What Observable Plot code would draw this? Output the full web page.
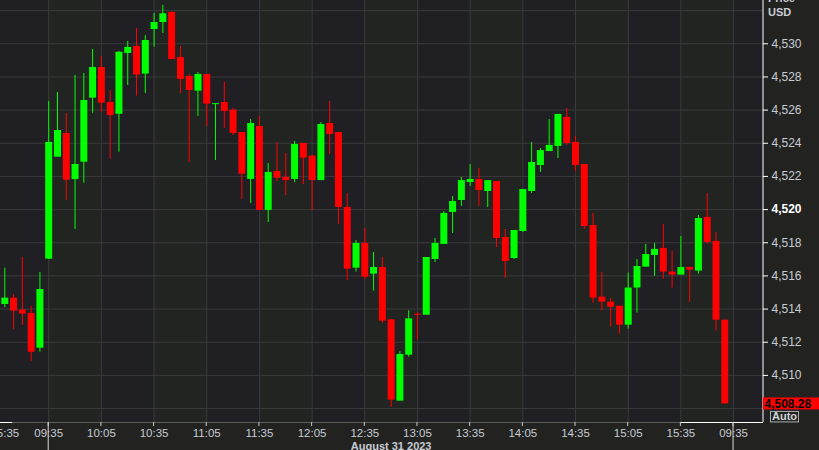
<!DOCTYPE html>
<html><head><meta charset="utf-8">
<script src="https://cdn.jsdelivr.net/npm/d3@7"></script>
<script src="https://cdn.jsdelivr.net/npm/@observablehq/plot@0.6"></script>
<style>
html,body{margin:0;padding:0;background:#222321;overflow:hidden;}
#chart{width:819px;height:450px;}
</style></head><body><div id="chart"></div>
<script>
// 5-minute candles, end of Aug 30 session .. 16:00 Aug 31 2023
const opens  = [4514.28,4514.66,4513.94,4513.74,4511.64,4517.01,4523.16,4524.59,4521.81,4522.86,
                4526.72,4528.57,4526.46,4525.75,4529.42,4529.84,4528.17,4530.86,4531.28,4531.89,
                4529.17,4528.03,4527.14,4528.15,4526.33,4526.46,4526.00,4524.65,4521.82,4525.01,
                4519.95,4522.30,4521.94,4521.82,4523.99,4523.22,4521.75,4525.19,4524.65,4520.13,
                4516.47,4517.96,4516.11,4516.51,4513.35,4508.45,4511.22,4513.69,4513.63,4516.99,
                4517.90,4519.83,4520.55,4521.63,4521.82,4521.09,4521.69,4518.32,4517.05,4518.68,
                4521.09,4522.66,4523.50,4523.81,4525.56,4524.05,4522.72,4519.04,4514.72,4514.42,
                4514.17,4513.03,4515.27,4516.53,4517.23,4517.66,4516.23,4516.05,4516.51,4516.29,
                4519.53,4518.08,4513.33];
const highs  = [4516.47,4514.88,4517.11,4514.16,4516.21,4526.52,4527.06,4525.80,4528.09,4528.21,
                4529.66,4529.23,4527.17,4529.54,4530.14,4530.92,4530.50,4531.83,4532.31,4531.95,
                4529.84,4528.15,4528.27,4528.15,4526.39,4527.68,4526.10,4524.65,4525.43,4525.62,
                4522.78,4524.05,4523.38,4524.11,4523.99,4523.30,4525.25,4526.52,4524.65,4520.97,
                4518.14,4518.86,4517.41,4517.11,4513.39,4511.44,4513.90,4513.78,4517.11,4518.26,
                4519.89,4520.79,4521.94,4522.72,4522.48,4521.75,4521.69,4518.80,4518.74,4521.21,
                4524.05,4523.69,4525.43,4525.74,4526.10,4524.41,4522.72,4519.77,4516.21,4514.64,
                4514.17,4516.17,4516.99,4517.90,4517.96,4519.10,4517.49,4518.38,4516.51,4519.65,
                4520.97,4518.62,4513.33];
const lows   = [4514.08,4512.75,4513.01,4510.84,4511.40,4517.00,4523.16,4520.55,4518.80,4521.59,
                4525.81,4525.87,4523.04,4523.46,4527.48,4526.84,4527.00,4529.80,4530.62,4529.05,
                4527.00,4522.84,4525.62,4525.01,4522.96,4524.89,4524.47,4520.61,4520.37,4519.95,
                4519.22,4521.69,4520.85,4521.63,4521.51,4519.95,4521.75,4523.32,4519.10,4515.72,
                4516.23,4515.80,4515.08,4513.15,4508.08,4508.45,4511.10,4512.15,4513.63,4516.81,
                4517.90,4518.56,4520.19,4521.39,4520.19,4520.13,4517.71,4515.86,4516.99,4518.62,
                4520.97,4522.24,4523.50,4523.08,4523.87,4522.30,4518.80,4514.36,4513.88,4512.91,
                4512.49,4512.79,4513.76,4516.53,4515.98,4515.80,4515.27,4516.05,4514.40,4516.11,
                4517.90,4512.67,4508.28];
const closes = [4514.66,4513.88,4513.70,4511.40,4515.18,4524.05,4524.77,4521.77,4522.72,4526.58,
                4528.57,4526.42,4525.68,4529.49,4529.78,4528.11,4530.20,4531.28,4531.81,4529.05,
                4527.85,4527.18,4528.15,4526.36,4526.39,4525.92,4524.59,4522.13,4525.19,4519.95,
                4522.24,4521.89,4521.75,4523.93,4523.10,4521.75,4525.13,4524.53,4520.13,4516.41,
                4517.96,4515.92,4516.51,4513.27,4508.51,4511.26,4513.41,4513.63,4517.11,4517.96,
                4519.77,4520.49,4521.75,4521.82,4521.15,4521.75,4518.26,4516.87,4518.74,4521.21,
                4522.84,4523.56,4523.87,4525.74,4523.99,4522.66,4518.98,4514.66,4514.42,4514.11,
                4513.03,4515.27,4516.57,4517.29,4517.60,4516.23,4516.05,4516.51,4516.35,4519.46,
                4518.02,4513.33,4508.28];

const tickIndex  = [0,5,11,17,23,29,35,41,47,53,59,65,71,77,83];
const tickLabels = ["15:35","09:35","10:05","10:35","11:05","11:35","12:05","12:35","13:05","13:35","14:05","14:35","15:05","15:35","09:35"];
const dayBreakIndex = [5,83];
const dateLabel = "August 31 2023";
const dateLabelIndex = 44;
const shadedBands = [[5,11],[17,23],[29,35],[41,47],[53,59],[65,71],[77,83]];
const axisHighlight = [[-0.49,0.9],[77,86.41]];
const priceTicks = [4510,4512,4514,4516,4518,4522,4524,4526,4528,4530];
const boldPriceTick = [4520];
const gridPrices = [4508,4510,4512,4514,4516,4518,4520,4522,4524,4526,4528,4530,4532];
const lastPrice = 4508.28;
const xDomain = [-0.49, 86.41];
const yDomain = [4507.16, 4532.61];

const UP = "#00ff00", DOWN = "#ff0000", LABEL = "#c8ccd2", GRID = "#3a3a3c";
const candles = opens.map((o, i) => ({i, open: o, high: highs[i], low: lows[i], close: closes[i]}));
const col = d => d.close >= d.open ? UP : DOWN;
const fmt = d3.format(",");
const ticks = tickIndex.map((t, k) => ({t, label: tickLabels[k]}));

const chart = Plot.plot({
  width: 819, height: 450,
  marginTop: 0, marginLeft: 0, marginRight: 56, marginBottom: 28,
  x: {domain: xDomain, axis: null},
  y: {domain: yDomain, axis: null},
  color: {type: "identity"},
  style: {background: "#222321", fontFamily: "'Liberation Sans', Arial, sans-serif", fontSize: "12px", overflow: "visible"},
  marks: [
    Plot.frame({fill: "#201f23", stroke: null}),
    Plot.rect(shadedBands, {x1: d => d[0], x2: d => d[1], fill: "#212420"}),
    Plot.ruleY(gridPrices, {stroke: GRID}),
    Plot.ruleX(tickIndex.slice(1), {stroke: GRID}),
    Plot.ruleX(candles, {x: "i", y1: "low", y2: "high", stroke: col, strokeWidth: 1}),
    Plot.ruleX(candles, {x: "i", y1: "open", y2: "close", stroke: col, strokeWidth: 7}),
    Plot.ruleY([yDomain[0]], {stroke: "#5c5c5c"}),
    Plot.ruleY(axisHighlight, {y: () => yDomain[0], x1: d => d[0], x2: d => d[1], stroke: "white"}),
    Plot.ruleX([xDomain[1]], {stroke: "white", dx: -0.5}),
    Plot.text(ticks, {x: "t", y: () => yDomain[0], text: "label", dy: 11, fill: LABEL, fontSize: 11.5}),
    Plot.text([dateLabel], {x: () => dateLabelIndex, y: () => yDomain[0], text: d => d, dy: 23.5, fill: LABEL, fontSize: 11, fontWeight: "bold"}),
    Plot.text(priceTicks, {x: () => xDomain[1], y: d => d, text: d => fmt(d), dx: 8, textAnchor: "start", fill: LABEL, fontSize: 12}),
    Plot.text(boldPriceTick, {x: () => xDomain[1], y: d => d, text: d => fmt(d), dx: 8, textAnchor: "start", fill: "white", fontSize: 12, fontWeight: "bold"})
  ]
});

document.getElementById("chart").appendChild(chart);

const sx = chart.scale("x"), sy = chart.scale("y");
const svg = d3.select(chart);
const xr = sx.apply(xDomain[1]);
const yb = sy.apply(yDomain[0]);
const g = svg.append("g").attr("text-anchor", "start");
g.selectAll("line.yt").data(gridPrices.filter(p => p >= 4510 && p <= 4530)).join("line")
  .attr("x1", xr).attr("x2", xr + 5).attr("y1", d => sy.apply(d) + 0.5).attr("y2", d => sy.apply(d) + 0.5)
  .attr("stroke", "white");
g.selectAll("line.xt").data(tickIndex.slice(1)).join("line")
  .attr("x1", d => sx.apply(d)).attr("x2", d => sx.apply(d)).attr("y1", yb).attr("y2", yb + 4)
  .attr("stroke", "#c8c8c8");
g.selectAll("line.db").data(dayBreakIndex).join("line")
  .attr("x1", d => sx.apply(d)).attr("x2", d => sx.apply(d)).attr("y1", yb).attr("y2", 450)
  .attr("stroke", "#d8d8d8");
const yl = sy.apply(lastPrice);
g.append("rect").attr("x", xr).attr("y", yl - 6).attr("width", 56).attr("height", 12).attr("fill", "#ff0000");
g.append("text").attr("x", xr + 1.5).attr("y", yl + 4.5).attr("text-anchor", "start").text(d3.format(",.2f")(lastPrice))
  .attr("fill", "black").attr("font-weight", "bold").attr("font-size", 12);
g.append("rect").attr("x", xr + 7.5).attr("y", yl + 8).attr("width", 28).attr("height", 10.5)
  .attr("fill", "none").attr("stroke", "#aab0b6");
g.append("text").attr("x", xr + 21.5).attr("y", yl + 17).attr("text-anchor", "middle").text("Auto")
  .attr("fill", "#d0d4d8").attr("font-weight", "bold").attr("font-size", 11);
g.append("text").attr("x", xr + 5).attr("y", 2).attr("text-anchor", "start").text("Price")
  .attr("fill", LABEL).attr("font-weight", "bold").attr("font-size", 11);
g.append("text").attr("x", xr + 5).attr("y", 15.7).attr("text-anchor", "start").text("USD")
  .attr("fill", LABEL).attr("font-weight", "bold").attr("font-size", 11);
</script>
</body></html>
